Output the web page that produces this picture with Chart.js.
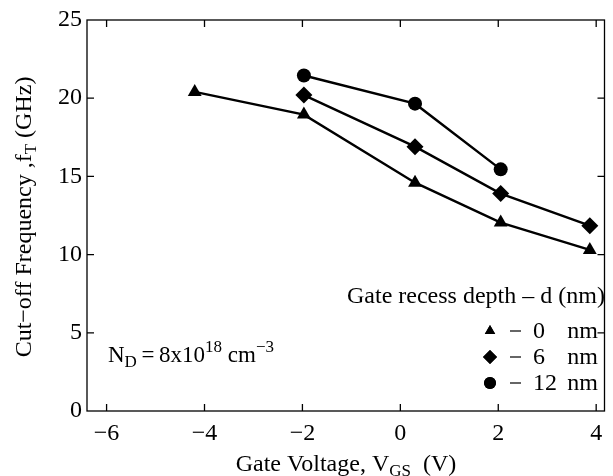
<!DOCTYPE html>
<html>
<head>
<meta charset="utf-8">
<script src="https://cdn.jsdelivr.net/npm/chart.js@4.4.1/dist/chart.umd.min.js"></script>
<style>
  html, body { margin: 0; padding: 0; background: #fff; }
</style>
</head>
<body>
<canvas id="fig" width="613" height="476"></canvas>
<script>
// gate voltage (V) and cut-off frequency (GHz) per recess depth
const vgs0nm = [-4.2, -1.97, 0.3, 2.05, 3.87];
const ft0nm = [20.4, 18.95, 14.6, 12.05, 10.3];
const vgs6nm = [-1.97, 0.3, 2.05, 3.87];
const ft6nm = [20.2, 16.9, 13.9, 11.85];
const vgs12nm = [-1.97, 0.3, 2.05];
const ft12nm = [21.45, 19.65, 15.45];

const xTickValues = [-6, -4, -2, 0, 2, 4];
const yTickValues = [0, 5, 10, 15, 20, 25];
const depthNumbers = ['0', '6', '12'];
const depthShapes = ['triangle', 'rectRot', 'circle'];

const SERIF = '"Liberation Serif", "Times New Roman", serif';
const INK = '#000';

function toPoints(xs, ys) {
  return xs.map((x, i) => ({ x: x, y: ys[i] }));
}

// draws a run of text pieces: [text, size, baseline shift]
function richText(ctx, parts, x, y, align) {
  let width = 0;
  parts.forEach(p => {
    ctx.font = p[1] + 'px ' + SERIF;
    width += ctx.measureText(p[0]).width;
  });
  let cx = align === 'center' ? x - width / 2 : x;
  ctx.textAlign = 'left';
  ctx.textBaseline = 'alphabetic';
  parts.forEach(p => {
    ctx.font = p[1] + 'px ' + SERIF;
    ctx.fillText(p[0], cx, y + (p[2] || 0));
    cx += ctx.measureText(p[0]).width;
  });
}

function dataset(xs, ys, shape, radius) {
  return {
    data: toPoints(xs, ys),
    showLine: true,
    borderColor: INK,
    borderWidth: 2.4,
    tension: 0,
    pointStyle: shape,
    pointRadius: radius,
    pointHoverRadius: radius,
    pointBackgroundColor: INK,
    pointBorderColor: INK,
    pointBorderWidth: 0
  };
}

const framePlugin = {
  id: 'frame',
  afterDraw(chart) {
    const ctx = chart.ctx;
    const a = chart.chartArea;
    const xs = chart.scales.x;
    const ys = chart.scales.y;
    const tick = 7;

    ctx.save();
    ctx.strokeStyle = INK;
    ctx.lineWidth = 1.3;
    ctx.strokeRect(a.left, a.top, a.right - a.left, a.bottom - a.top);

    ctx.beginPath();
    xTickValues.forEach(v => {
      const px = xs.getPixelForValue(v);
      ctx.moveTo(px, a.bottom);
      ctx.lineTo(px, a.bottom - tick);
      ctx.moveTo(px, a.top);
      ctx.lineTo(px, a.top + tick);
    });
    yTickValues.slice(1, -1).forEach(v => {
      const py = ys.getPixelForValue(v);
      ctx.moveTo(a.left, py);
      ctx.lineTo(a.left + tick, py);
      ctx.moveTo(a.right, py);
      ctx.lineTo(a.right - tick, py);
    });
    ctx.stroke();

    ctx.fillStyle = INK;

    // axis titles
    richText(ctx, [['Gate Voltage, V', 24], ['GS', 17, 5], ['  (V)', 24]], 346, 471, 'center');
    ctx.save();
    ctx.translate(31, 217);
    ctx.rotate(-Math.PI / 2);
    richText(ctx, [['Cut\u2212off Frequency ,f', 24], ['T', 17, 5], [' (GHz)', 24]], 0, 0, 'center');
    ctx.restore();

    // doping note
    richText(ctx, [['N', 23], ['D', 17, 5], ['\u2009=\u20098x10', 23], ['18', 17, -10], [' cm', 23], ['\u22123', 17, -10]], 108, 362, 'left');

    // legend
    richText(ctx, [['Gate recess depth \u2013 d (nm)', 24]], 347, 303, 'left');
    const rowBase = [338, 364, 390];
    const legendRadius = [6, 7, 6];
    ctx.lineWidth = 1.2;
    depthNumbers.forEach((num, i) => {
      const cy = rowBase[i] - 7;
      ctx.fillStyle = INK;
      Chart.helpers.drawPoint(ctx, {
        pointStyle: depthShapes[i],
        radius: legendRadius[i],
        borderWidth: 0,
        rotation: 0
      }, 490, cy);
      ctx.fill();
      ctx.beginPath();
      ctx.moveTo(510, cy);
      ctx.lineTo(521, cy);
      ctx.stroke();
      ctx.font = '24px ' + SERIF;
      ctx.textAlign = 'left';
      ctx.fillText(num, 533, rowBase[i]);
      ctx.textAlign = 'right';
      ctx.fillText('nm', 598, rowBase[i]);
    });
    ctx.restore();
  }
};

new Chart(document.getElementById('fig'), {
  type: 'scatter',
  data: {
    datasets: [
      dataset(vgs0nm, ft0nm, depthShapes[0], 8),
      dataset(vgs6nm, ft6nm, depthShapes[1], 8.5),
      dataset(vgs12nm, ft12nm, depthShapes[2], 7)
    ]
  },
  options: {
    responsive: false,
    devicePixelRatio: 1,
    animation: false,
    layout: { padding: { top: 20, right: 4, left: 0, bottom: 0 } },
    plugins: {
      legend: { display: false },
      tooltip: { enabled: false }
    },
    scales: {
      x: {
        type: 'linear',
        min: -6.4,
        max: 4.17,
        afterBuildTicks: s => { s.ticks = xTickValues.map(v => ({ value: v })); },
        afterFit: s => { s.height = 65; },
        grid: { display: false, drawTicks: false },
        border: { display: false },
        ticks: {
          color: INK,
          padding: 8,
          maxRotation: 0,
          autoSkip: false,
          font: { family: SERIF, size: 24 },
          callback: v => String(v).replace('-', '\u2212')
        }
      },
      y: {
        type: 'linear',
        min: 0,
        max: 25,
        afterBuildTicks: s => { s.ticks = yTickValues.map(v => ({ value: v })); },
        afterFit: s => { s.width = 87; },
        grid: { display: false, drawTicks: false },
        border: { display: false },
        ticks: {
          color: INK,
          padding: 5,
          autoSkip: false,
          font: { family: SERIF, size: 24 }
        }
      }
    }
  },
  plugins: [framePlugin]
});
</script>
</body>
</html>
